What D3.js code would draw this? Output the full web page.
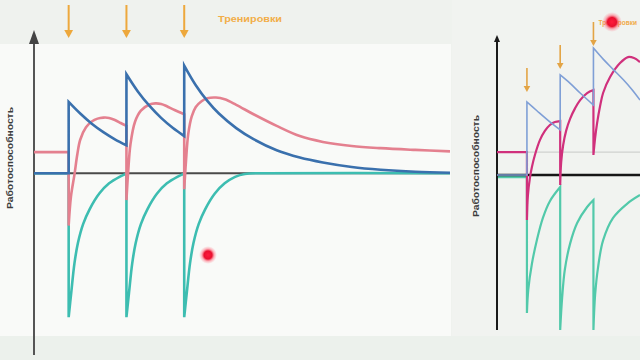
<!DOCTYPE html>
<html>
<head>
<meta charset="utf-8">
<script src="https://cdn.jsdelivr.net/npm/d3@7"></script>
<style>
  body { margin: 0; background: #f1f3f0; }
  svg { display: block; font-family: "Liberation Sans", Arial, sans-serif; }
</style>
</head>
<body>
<script>
// left chart: days, trainings at 6 / 16 / 26
var leftTrainings = [6, 16, 26];
var leftPink = [
  [[0, 14.5], [6, 14.5]],
  [[6, -36], [6.4, -16], [7, -1], [7.5, 13], [8, 23], [9, 31.5], [10, 35.5], [11, 37.5], [12, 38.2], [13, 38], [14, 36.6], [15, 34.5], [16, 32.5]],
  [[16, -18.5], [16.3, 1], [16.7, 20], [17.5, 35.5], [18.5, 43], [20, 47.2], [21, 48], [22, 47.6], [23, 46], [24, 44], [25, 42.2], [26, 40.5]],
  [[26, -11], [26.3, 8], [26.7, 27], [27.3, 39], [28, 45.5], [29, 49.5], [30, 51.5], [31.5, 52], [33, 50.8], [35, 47], [38, 40.5], [42, 32.5], [46, 25.5], [50, 21.5], [55, 18.7], [60, 17.2], [66, 16], [72, 15]]
];
var leftBlue = [
  [[0, 0], [6, 0]],
  [[6, 49], [8, 41], [10, 34], [12, 28.2], [14, 23.3], [16, 19.2]],
  [[16, 68], [18, 56], [20, 46.2], [22, 38], [24, 31.2], [26, 25.5]],
  [[26, 74], [28, 60.5], [30, 49.7], [32, 41], [35, 31], [38, 23.4], [42, 15.8], [46, 10.8], [50, 7.4], [55, 4.3], [60, 2.4], [66, 1], [72, 0.3]]
];
var leftTeal = [
  [[0, 0], [6, 0]],
  [[6, -99], [6.45, -82], [7, -62], [7.6, -48], [8.5, -35], [9.6, -25], [11.3, -14], [13, -7], [14.8, -2.5], [16, -0.3]],
  [[16, -99], [16.45, -82], [17, -62], [17.6, -48], [18.5, -35], [19.6, -25], [21.3, -14], [23, -7], [24.8, -2.5], [26, -0.3]],
  [[26, -99], [26.45, -82], [27, -62], [27.6, -48], [28.5, -35], [29.6, -25], [31.3, -14], [33, -7], [34.8, -2.5], [36.5, -0.5], [40, 0], [72, 0]]
];

// right chart: days, trainings at 9 / 19 / 29
var rightTrainings = [9, 19, 29];
var rightMagenta = [
  [[0, 15.8], [9, 15.8]],
  [[9, -31], [9.3, -13.8], [9.9, -2], [10.5, 5.5], [11.4, 13.8], [12.9, 24], [14.4, 30.3], [15.9, 34.4], [17.4, 36.4], [19, 37.1]],
  [[19, -6.9], [19.3, 8.9], [19.9, 20.6], [20.8, 30.5], [22, 38.8], [23.5, 46], [25, 51.5], [27.1, 56.3], [29, 58.4]],
  [[29, 13.8], [29.5, 25.4], [30.1, 35.7], [31, 47.4], [31.9, 56.4], [34, 67.4], [37, 77], [39.4, 81.1], [41.2, 80.4], [43, 77.7]]
];
var rightBlue = [
  [[0, 0], [9, 0]],
  [[9, 50.2], [12, 44.2], [15, 38.3], [19, 31]],
  [[19, 68.8], [22, 63], [25, 56.4], [29, 48.1]],
  [[29, 87.3], [32, 79.5], [35, 72.5], [38, 65.5], [40.5, 59], [43, 51.6]]
];
var rightTeal = [
  [[0, -1.4], [9, -1.4]],
  [[9, -94.9], [9.4, -79], [10.5, -61], [12, -44.7], [13.8, -29.5], [15.9, -18], [19, -8.3]],
  [[19, -106.6], [19.6, -84], [20.4, -65], [22, -47], [24.1, -33], [27.1, -22], [29, -17.2]],
  [[29, -106.6], [29.5, -82.5], [30.4, -63.3], [31.9, -45], [34.9, -29.5], [39.1, -19.8], [43, -13.8]]
];
var refLevel = 15.8;
var axisLabel = "Работоспособность";
var trainLabel = "Тренировки";

var svg = d3.select("body").append("svg")
  .attr("width", 640)
  .attr("height", 360);

// video-like background panels
svg.append("rect").attr("x", 0).attr("y", 0).attr("width", 640).attr("height", 360).attr("fill", "#eff2ee");
svg.append("rect").attr("x", 0).attr("y", 44).attr("width", 451).attr("height", 292).attr("fill", "#f9faf8");
svg.append("rect").attr("x", 452).attr("y", 0).attr("width", 188).attr("height", 360).attr("fill", "#f1f3f0");
svg.append("rect").attr("x", 0).attr("y", 336).attr("width", 640).attr("height", 24).attr("fill", "#ecf1ec");

var defs = svg.append("defs");
var grad = defs.append("radialGradient").attr("id", "laser");
grad.append("stop").attr("offset", "0%").attr("stop-color", "#ff1a3c");
grad.append("stop").attr("offset", "45%").attr("stop-color", "#e8102e");
grad.append("stop").attr("offset", "70%").attr("stop-color", "#ff5a6e").attr("stop-opacity", 0.45);
grad.append("stop").attr("offset", "100%").attr("stop-color", "#ff8090").attr("stop-opacity", 0);

function segPath(line, segs) {
  return segs.map(function (s, i) {
    var p = line(s);
    return i ? p.replace(/^M/, "L") : p;
  }).join("");
}

function downArrow(g, x, y0, y1, color, w, head) {
  g.append("line").attr("x1", x).attr("x2", x).attr("y1", y0).attr("y2", y1 - head)
    .attr("stroke", color).attr("stroke-width", w);
  g.append("path")
    .attr("d", "M" + (x - head * 0.55) + "," + (y1 - head) + "L" + (x + head * 0.55) + "," + (y1 - head) + "L" + x + "," + y1 + "Z")
    .attr("fill", color);
}

// ---------- left chart ----------
var xL = d3.scaleLinear().domain([0, 72]).range([34, 450]);
var yL = d3.scaleLinear().domain([-125, 95]).range([355, 35]);
var lineL = d3.line().x(function (d) { return xL(d[0]); }).y(function (d) { return yL(d[1]); })
  .curve(d3.curveCatmullRom.alpha(0.5));

var gL = svg.append("g");
gL.append("line").attr("x1", xL(0)).attr("x2", xL(0)).attr("y1", yL(-125)).attr("y2", 42)
  .attr("stroke", "#555").attr("stroke-width", 2);
gL.append("path").attr("d", "M" + (xL(0) - 5) + ",44L" + (xL(0) + 5) + ",44L" + xL(0) + ",30Z").attr("fill", "#444");
gL.append("line").attr("x1", xL(0)).attr("x2", xL(72)).attr("y1", yL(0)).attr("y2", yL(0))
  .attr("stroke", "#4a4a4a").attr("stroke-width", 2);

gL.append("path").attr("d", segPath(lineL, leftTeal)).attr("fill", "none")
  .attr("stroke", "#3dbdb1").attr("stroke-width", 2.6);
gL.append("path").attr("d", segPath(lineL, leftPink)).attr("fill", "none")
  .attr("stroke", "#e4808f").attr("stroke-width", 2.6);
gL.append("path").attr("d", segPath(lineL, leftBlue)).attr("fill", "none")
  .attr("stroke", "#3a70ad").attr("stroke-width", 2.6);

leftTrainings.forEach(function (t) { downArrow(gL, xL(t), 5, 38, "#eda83c", 2, 8); });
gL.append("text").attr("x", 218).attr("y", 22).text(trainLabel)
  .attr("font-size", 9).attr("font-weight", "bold").attr("fill", "#f2ae48")
  .attr("textLength", 64).attr("lengthAdjust", "spacingAndGlyphs");
gL.append("text").attr("transform", "translate(13,158) rotate(-90)").attr("text-anchor", "middle")
  .text(axisLabel).attr("font-size", 9).attr("font-weight", "bold").attr("fill", "#3c3c3c")
  .attr("textLength", 102).attr("lengthAdjust", "spacingAndGlyphs");

// ---------- right chart ----------
var xR = d3.scaleLinear().domain([0, 43]).range([497, 640]);
var yR = d3.scaleLinear().domain([-106.6, 95.6]).range([330, 36]);
var lineR = d3.line().x(function (d) { return xR(d[0]); }).y(function (d) { return yR(d[1]); })
  .curve(d3.curveCatmullRom.alpha(0.5));

var gR = svg.append("g");
gR.append("line").attr("x1", xR(rightTrainings[0])).attr("x2", xR(43)).attr("y1", yR(refLevel)).attr("y2", yR(refLevel))
  .attr("stroke", "#cfd2cf").attr("stroke-width", 1.2);
gR.append("path").attr("d", segPath(lineR, rightTeal)).attr("fill", "none")
  .attr("stroke", "#52c9aa").attr("stroke-width", 2.2);
gR.append("line").attr("x1", xR(0)).attr("x2", xR(43)).attr("y1", yR(0)).attr("y2", yR(0))
  .attr("stroke", "#161616").attr("stroke-width", 2.6);
gR.append("line").attr("x1", xR(0)).attr("x2", xR(0)).attr("y1", yR(-106.6)).attr("y2", 40)
  .attr("stroke", "#1a1a1a").attr("stroke-width", 2);
gR.append("path").attr("d", "M" + (xR(0) - 3) + ",42L" + (xR(0) + 3) + ",42L" + xR(0) + ",35Z").attr("fill", "#1a1a1a");
gR.append("path").attr("d", segPath(lineR, rightMagenta)).attr("fill", "none")
  .attr("stroke", "#d0307c").attr("stroke-width", 2.2);
gR.append("path").attr("d", segPath(lineR, rightBlue)).attr("fill", "none")
  .attr("stroke", "#7f9fd6").attr("stroke-width", 1.6);

var rightArrowTops = [68, 45, 22];
rightTrainings.forEach(function (t, i) {
  downArrow(gR, xR(t), rightArrowTops[i], rightArrowTops[i] + 24, "#e3a445", 1.6, 6);
});
gR.append("text").attr("x", 637).attr("y", 25).attr("text-anchor", "end").text(trainLabel)
  .attr("font-size", 6.5).attr("font-weight", "bold").attr("fill", "#f0ab4a");
gR.append("text").attr("transform", "translate(479,166) rotate(-90)").attr("text-anchor", "middle")
  .text(axisLabel).attr("font-size", 9).attr("font-weight", "bold").attr("fill", "#3c3c3c")
  .attr("textLength", 102).attr("lengthAdjust", "spacingAndGlyphs");

// laser pointer dots seen in the frame
svg.append("circle").attr("cx", 208).attr("cy", 255).attr("r", 9).attr("fill", "url(#laser)");
svg.append("circle").attr("cx", 612).attr("cy", 22).attr("r", 10).attr("fill", "url(#laser)");
</script>
</body>
</html>
